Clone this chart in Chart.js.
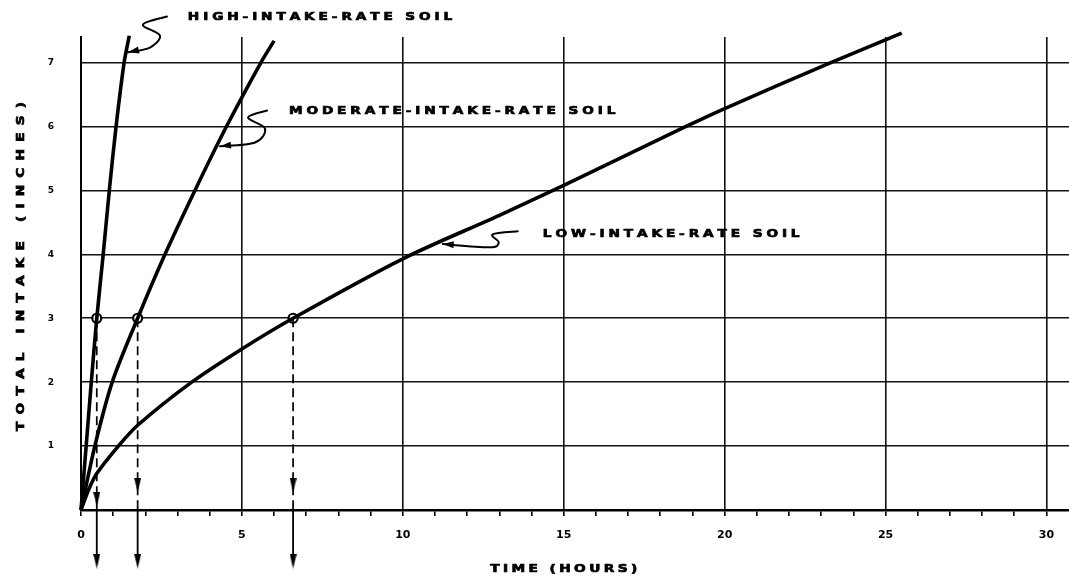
<!DOCTYPE html>
<html>
<head>
<meta charset="utf-8">
<script src="https://cdn.jsdelivr.net/npm/chart.js@4"></script>
<style>
  html, body { margin: 0; padding: 0; background: #fff; }
  #wrap { width: 1069px; height: 579px; position: relative; }
</style>
</head>
<body>
<div id="wrap"><canvas id="intakeChart"></canvas></div>
<script>
// Curves: time in hours, total intake in inches
var highHours = [0, 0.16, 0.32, 0.49, 0.69, 0.88, 1.09, 1.34, 1.5];
var highInches = [0, 1, 2, 3, 4, 5, 6, 7, 7.42];
var moderateHours = [0, 0.43, 0.97, 1.76, 2.61, 3.54, 4.52, 5.59, 6.0];
var moderateInches = [0, 1, 2, 3, 4, 5, 6, 7, 7.34];
var lowHours = [0, 0.23, 0.49, 1.16, 1.77, 3.44, 5, 6.59, 10, 13, 15, 18.8, 20, 23.3, 25.5];
var lowInches = [0, 0.31, 0.57, 1, 1.33, 2, 2.52, 3, 3.93, 4.61, 5.08, 6, 6.28, 7, 7.46];

// 3-inch marks and the arrows dropped from them to the time axis
var markerHours = [0.49, 1.76, 6.59];
var markerInches = 3;
var arrowAboveAxis = [0.17, 0.39, 0.39];
var arrowBelowAxis = -0.8;

// Tick labels
var xTickLabels = [0, 5, 10, 15, 20, 25, 30];
var yTickLabels = [1, 2, 3, 4, 5, 6, 7];

var curveLabels = ['HIGH-INTAKE-RATE SOIL', 'MODERATE-INTAKE-RATE SOIL', 'LOW-INTAKE-RATE SOIL'];

function toPoints(xs, ys) {
    return xs.map(function(x, i) { return { x: x, y: ys[i] }; });
}

// narrow arrowhead
function arrowImage(w, h) {
    var c = document.createElement('canvas');
    c.width = w; c.height = h;
    var g = c.getContext('2d');
    g.fillStyle = '#000';
    g.beginPath();
    g.moveTo(0, 0); g.lineTo(w, 0); g.lineTo(w / 2, h);
    g.closePath(); g.fill();
    return c;
}
var arrowDown = arrowImage(7, 15);

// spaced, slightly extended lettering like the original drafting text
function drawLettering(ctx, text, x, y, size, spacing, stretch, align, angle) {
    ctx.save();
    ctx.font = 'bold ' + size + 'px "DejaVu Sans"';
    ctx.fillStyle = '#000';
    ctx.strokeStyle = '#000';
    ctx.lineWidth = 0.7;
    ctx.textBaseline = 'alphabetic';
    var widths = text.split('').map(function(ch) { return ctx.measureText(ch).width * stretch; });
    var total = widths.reduce(function(a, b) { return a + b; }, 0) + spacing * (text.length - 1);
    ctx.translate(x, y);
    if (angle) ctx.rotate(angle);
    var cx = align === 'center' ? -total / 2 : 0;
    text.split('').forEach(function(ch, i) {
        ctx.save();
        ctx.translate(cx, 0);
        ctx.scale(stretch, 1);
        ctx.fillText(ch, 0, 0);
        ctx.strokeText(ch, 0, 0);
        ctx.restore();
        cx += widths[i] + spacing;
    });
    ctx.restore();
}

function smoothPath(ctx, pts) {
    ctx.moveTo(pts[0][0], pts[0][1]);
    for (var i = 0; i < pts.length - 1; i++) {
        var p0 = pts[Math.max(i - 1, 0)], p1 = pts[i], p2 = pts[i + 1], p3 = pts[Math.min(i + 2, pts.length - 1)];
        ctx.bezierCurveTo(p1[0] + (p2[0] - p0[0]) / 6, p1[1] + (p2[1] - p0[1]) / 6,
                          p2[0] - (p3[0] - p1[0]) / 6, p2[1] - (p3[1] - p1[1]) / 6, p2[0], p2[1]);
    }
}

// labels with their hand-drawn S leaders (anchors in hours / inches, S bends in px)
var leaders = [
    { text: curveLabels[0], at: [3.32, 7.67], from: [2.67, 7.72], tip: [1.46, 7.16], bends: [[-24, 8], [-7, 19], [-17, 31]] },
    { text: curveLabels[1], at: [6.46, 6.20], from: [5.78, 6.25], tip: [4.32, 5.69], bends: [[-19, 7], [-2, 18], [-12, 32]] },
    { text: curveLabels[2], at: [14.35, 4.27], from: [13.57, 4.36], tip: [11.24, 4.16], bends: [[-25, 3], [-19, 11], [-28, 16]] }
];

var overlayPlugin = {
    id: 'overlay',
    afterDatasetsDraw: function(chart) {
        // arrowheads: Chart.js skips points outside the plot area, so paint them from the parsed elements
        var ctx = chart.ctx;
        chart.data.datasets.forEach(function(ds, i) {
            if (!ds.arrowTips) return;
            chart.getDatasetMeta(i).data.forEach(function(el) {
                ctx.drawImage(arrowDown, el.x - arrowDown.width / 2, el.y - arrowDown.height / 2);
            });
        });
    },
    afterDraw: function(chart) {
        var ctx = chart.ctx, xs = chart.scales.x, ys = chart.scales.y, area = chart.chartArea;

        leaders.forEach(function(l) {
            var sx = xs.getPixelForValue(l.from[0]), sy = ys.getPixelForValue(l.from[1]);
            var tx = xs.getPixelForValue(l.tip[0]), ty = ys.getPixelForValue(l.tip[1]);
            var pts = [[sx, sy]];
            l.bends.forEach(function(b) { pts.push([sx + b[0], sy + b[1]]); });
            pts.push([tx, ty]);

            ctx.save();
            ctx.strokeStyle = '#000';
            ctx.lineWidth = 2;
            ctx.lineCap = 'round';
            ctx.beginPath();
            smoothPath(ctx, pts);
            ctx.stroke();

            var prev = pts[pts.length - 2];
            var ang = Math.atan2(ty - prev[1], tx - prev[0]);
            ctx.translate(tx, ty);
            ctx.rotate(ang);
            ctx.fillStyle = '#000';
            ctx.beginPath();
            ctx.moveTo(0, 0); ctx.lineTo(-11, -3.5); ctx.lineTo(-11, 3.5);
            ctx.closePath(); ctx.fill();
            ctx.restore();

            drawLettering(ctx, l.text, xs.getPixelForValue(l.at[0]), ys.getPixelForValue(l.at[1]), 10.5, 3.9, 1.3, 'left', 0);
        });

        // axis titles
        drawLettering(ctx, 'TIME (HOURS)', xs.getPixelForValue(15), area.bottom + 62, 11, 3.4, 1.25, 'center', 0);
        drawLettering(ctx, 'TOTAL INTAKE (INCHES)', 24, (area.top + area.bottom) / 2 - 7, 10.5, 7.2, 1.3, 'center', -Math.PI / 2);
    }
};

var curveStyle = {
    showLine: true,
    borderColor: '#000',
    borderWidth: 3.6,
    pointRadius: 0,
    tension: 0.3,
    clip: false
};

var datasets = [
    Object.assign({ label: curveLabels[0], data: toPoints(highHours, highInches) }, curveStyle),
    Object.assign({ label: curveLabels[1], data: toPoints(moderateHours, moderateInches) }, curveStyle),
    Object.assign({ label: curveLabels[2], data: toPoints(lowHours, lowInches) }, curveStyle)
];

markerHours.forEach(function(h) {
    // dashed drop line down to the axis
    datasets.push({
        data: [{ x: h, y: markerInches }, { x: h, y: 0 }],
        showLine: true, borderColor: '#000', borderWidth: 1.7, borderDash: [9, 5],
        pointRadius: 0, clip: false
    });
    // solid continuation under the axis
    datasets.push({
        data: [{ x: h, y: 0 }, { x: h, y: arrowBelowAxis }],
        showLine: true, borderColor: '#000', borderWidth: 1.8,
        pointRadius: 0, clip: false
    });
});

datasets.push({
    data: markerHours.map(function(h, i) { return { x: h, y: arrowAboveAxis[i] }; }),
    arrowTips: true, pointRadius: 0, clip: false
});
datasets.push({
    data: markerHours.map(function(h) { return { x: h, y: arrowBelowAxis }; }),
    arrowTips: true, pointRadius: 0, clip: false
});
datasets.push({
    data: markerHours.map(function(h) { return { x: h, y: markerInches }; }),
    pointStyle: 'circle', pointRadius: 4.5,
    pointBackgroundColor: '#fff', pointBorderColor: '#000', pointBorderWidth: 2.2,
    clip: false
});

var ctx = document.getElementById('intakeChart').getContext('2d');
var chart = new Chart(ctx, {
    type: 'scatter',
    data: { datasets: datasets },
    options: {
        responsive: true,
        maintainAspectRatio: false,
        animation: false,
        events: [],
        layout: { autoPadding: false, padding: { top: 37, right: 0, bottom: 0, left: 0 } },
        plugins: {
            legend: { display: false },
            tooltip: { enabled: false }
        },
        scales: {
            x: {
                type: 'linear',
                min: 0,
                max: 30.7,
                afterFit: function(scale) {
                    scale.height = 69;
                    scale.paddingLeft = 0;
                    scale.paddingRight = 0;
                },
                border: { display: true, color: '#000', width: 2.5 },
                grid: {
                    color: function(c) { return (c.tick && c.tick.value > 0 && xTickLabels.indexOf(c.tick.value) >= 0) ? '#111' : 'rgba(0,0,0,0)'; },
                    lineWidth: 1.6,
                    drawTicks: true,
                    tickLength: 6,
                    tickColor: '#000',
                    tickWidth: 1.6
                },
                ticks: {
                    stepSize: 1,
                    includeBounds: false,
                    autoSkip: false,
                    maxRotation: 0,
                    padding: 13,
                    color: '#000',
                    font: { family: '"DejaVu Sans"', size: 11, weight: 'bold' },
                    callback: function(v) { return xTickLabels.indexOf(v) >= 0 ? String(v) : ''; }
                }
            },
            y: {
                type: 'linear',
                min: 0,
                max: 7.4,
                afterFit: function(scale) {
                    scale.width = 81;
                    scale.paddingTop = 0;
                    scale.paddingBottom = 0;
                },
                border: { display: true, color: '#000', width: 2 },
                grid: {
                    color: function(c) { return (c.tick && yTickLabels.indexOf(c.tick.value) >= 0) ? '#111' : 'rgba(0,0,0,0)'; },
                    lineWidth: 1.6,
                    drawTicks: false
                },
                ticks: {
                    stepSize: 1,
                    includeBounds: false,
                    padding: 27,
                    color: '#000',
                    font: { family: '"DejaVu Sans"', size: 9, weight: 'bold' },
                    callback: function(v) { return yTickLabels.indexOf(v) >= 0 ? String(v) : ''; }
                }
            }
        }
    },
    plugins: [overlayPlugin]
});
</script>
</body>
</html>
